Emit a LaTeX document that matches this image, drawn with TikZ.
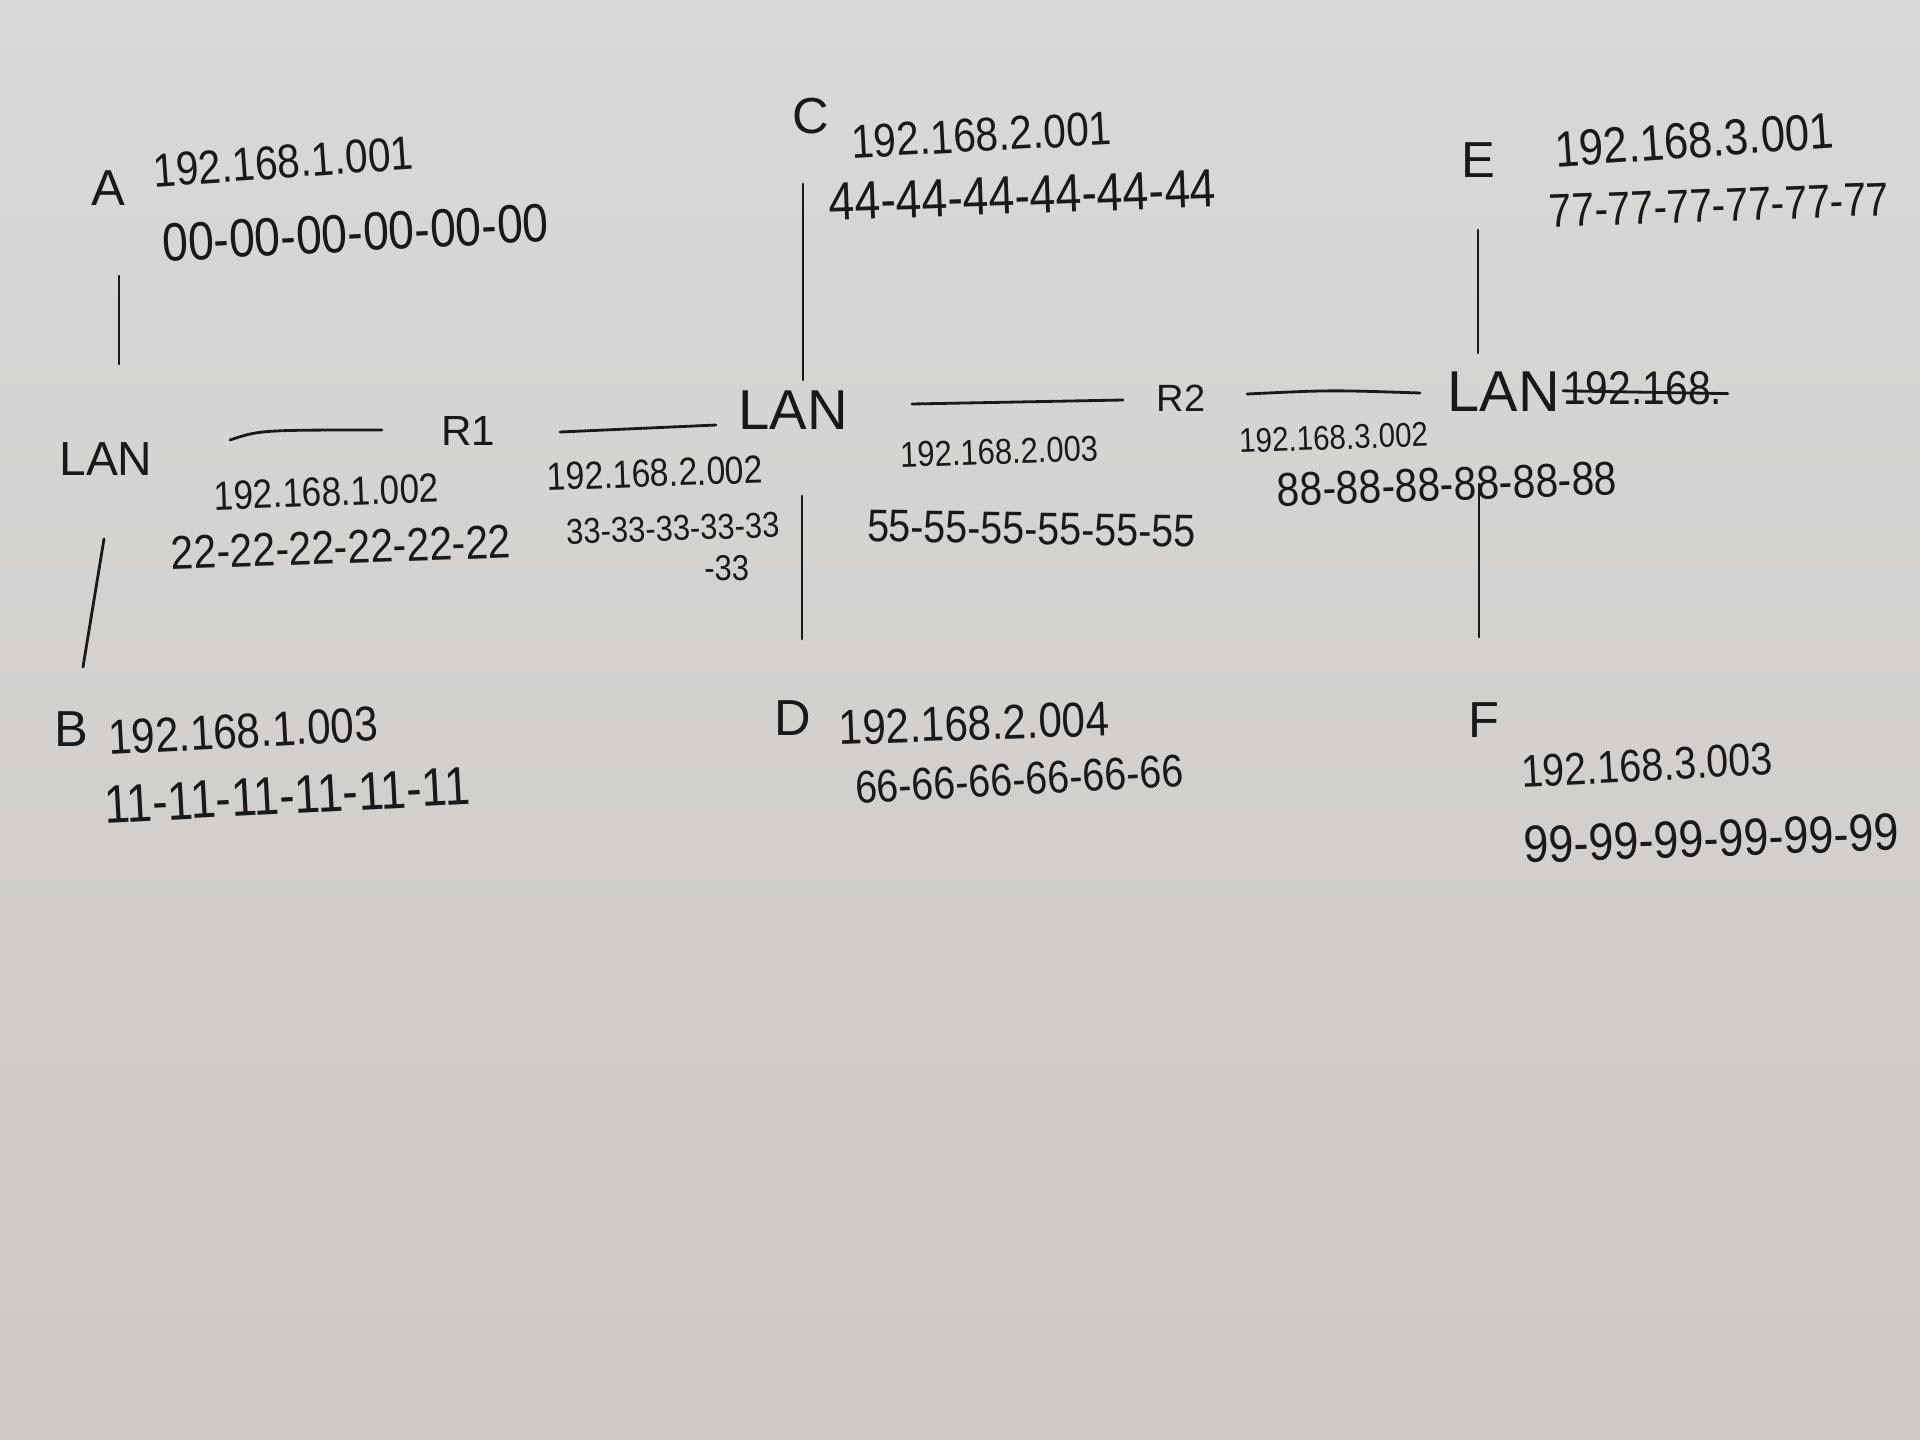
\documentclass[tikz,border=0pt]{standalone}
\usepackage{fontspec}
\setmainfont{Liberation Sans}
\definecolor{papertop}{RGB}{218,217,215}
\definecolor{paperbot}{RGB}{204,200,197}
\definecolor{ink}{RGB}{25,25,25}
\newcommand{\hw}[1]{\scalebox{1}[1.16]{#1}}
\newcommand{\fsz}[1]{\fontsize{#1}{#1}\selectfont}
\begin{document}
\begin{tikzpicture}[x=0.025cm,y=-0.025cm,
  wire/.style={line width=2pt, line cap=round, draw=ink},
  lab/.style={inner sep=0pt, text=ink, anchor=west},
  big/.style={inner sep=0pt, text=ink, anchor=center}]
\shade[top color=papertop, bottom color=paperbot] (0,0) rectangle (1920,1440);
\useasboundingbox (0,0) rectangle (1920,1440);

% hosts, top row
\node[big, font=\fsz{36}] (A) at (108,188) {A};
\node[lab, rotate=4, font=\fsz{29}] (ipA) at (153,171) {\hw{192.168.1.001}};
\node[lab, rotate=3, font=\fsz{33}] (macA) at (162,243) {\hw{00-00-00-00-00-00}};
\node[big, font=\fsz{36}] (C) at (811,116) {C};
\node[lab, rotate=3, font=\fsz{29}] (ipC) at (851,142) {\hw{192.168.2.001}};
\node[lab, rotate=2, font=\fsz{33}] (macC) at (829,202) {\hw{44-44-44-44-44-44}};
\node[big, font=\fsz{36}] (E) at (1478,160) {E};
\node[lab, rotate=4, font=\fsz{31}] (ipE) at (1555,150) {\hw{192.168.3.001}};
\node[lab, rotate=2, font=\fsz{29}] (macE) at (1549,211) {\hw{77-77-77-77-77-77}};

% middle row
\node[big, font=\fsz{34}] (LAN1) at (106,459) {LAN};
\node[big, font=\fsz{30}] (R1) at (468,431) {R1};
\node[big, font=\fsz{40}] (LAN2) at (793,410) {LAN};
\node[big, font=\fsz{27}] (R2) at (1181,398) {R2};
\node[big, font=\fsz{41}] (LAN3) at (1504,392) {LAN};
\node[lab, font=\fsz{29}] (strk) at (1563,388) {\hw{192.168.}};

\node[lab, rotate=2, font=\fsz{25}] (ipR1a) at (214,496) {\hw{192.168.1.002}};
\node[lab, rotate=2, font=\fsz{29}] (macR1a) at (171,553) {\hw{22-22-22-22-22-22}};
\node[lab, rotate=2, font=\fsz{24}] (ipR1b) at (547,477) {\hw{192.168.2.002}};
\node[lab, rotate=2, font=\fsz{22}] (macR1b) at (566,532) {\hw{33-33-33-33-33}};
\node[lab, font=\fsz{22}] (macR1c) at (704,568) {\hw{-33}};
\node[lab, rotate=2, font=\fsz{22}] (ipR2a) at (900,455) {\hw{192.168.2.003}};
\node[lab, rotate=-1, font=\fsz{28}] (macR2a) at (867,526) {\hw{55-55-55-55-55-55}};
\node[lab, rotate=2, font=\fsz{21}] (ipR2b) at (1239,441) {\hw{192.168.3.002}};
\node[lab, rotate=2, font=\fsz{29}] (macR2b) at (1277,490) {\hw{88-88-88-88-88-88}};

% bottom row
\node[big, font=\fsz{36}] (B) at (71,729) {B};
\node[lab, rotate=3, font=\fsz{30}] (ipB) at (108,738) {\hw{192.168.1.003}};
\node[lab, rotate=3, font=\fsz{33}] (macB) at (104,805) {\hw{11-11-11-11-11-11}};
\node[big, font=\fsz{36}] (D) at (793,718) {D};
\node[lab, rotate=2, font=\fsz{30}] (ipD) at (839,728) {\hw{192.168.2.004}};
\node[lab, rotate=3, font=\fsz{28}] (macD) at (855,788) {\hw{66-66-66-66-66-66}};
\node[big, font=\fsz{36}] (F) at (1484,720) {F};
\node[lab, rotate=3, font=\fsz{28}] (ipF) at (1521,772) {\hw{192.168.3.003}};
\node[lab, rotate=2, font=\fsz{32}] (macF) at (1524,845) {\hw{99-99-99-99-99-99}};

% line end points
\coordinate (a1) at (119,276); \coordinate (a2) at (119,364);
\coordinate (b1) at (104,539); \coordinate (b2) at (83,667);
\coordinate (c1) at (803,184); \coordinate (c2) at (803,380);
\coordinate (d1) at (802,496); \coordinate (d2) at (802,639);
\coordinate (e1) at (1478,230); \coordinate (e2) at (1478,353);
\coordinate (f1) at (1479,484); \coordinate (f2) at (1479,637);
\coordinate (h1) at (230,440); \coordinate (h2) at (382,430);
\coordinate (h3) at (560,432); \coordinate (h4) at (716,425);
\coordinate (h5) at (912,404); \coordinate (h6) at (1123,400);
\coordinate (h7) at (1247,394); \coordinate (h8) at (1420,393);

\draw[wire] (a1) -- (a2);
\draw[wire] (b1) -- (b2);
\draw[wire] (c1) -- (c2);
\draw[wire] (d1) -- (d2);
\draw[wire] (e1) -- (e2);
\draw[wire] (f1) -- (f2);
\draw[wire] (h1) .. controls (260,430) .. (h2);
\draw[wire] (h3) -- (h4);
\draw[wire] (h5) -- (h6);
\draw[wire] (h7) .. controls (1330,390) .. (h8);
\draw[wire] ([yshift=-2pt]strk.west) -- ([xshift=4pt,yshift=-4pt]strk.east);
\end{tikzpicture}
\end{document}
